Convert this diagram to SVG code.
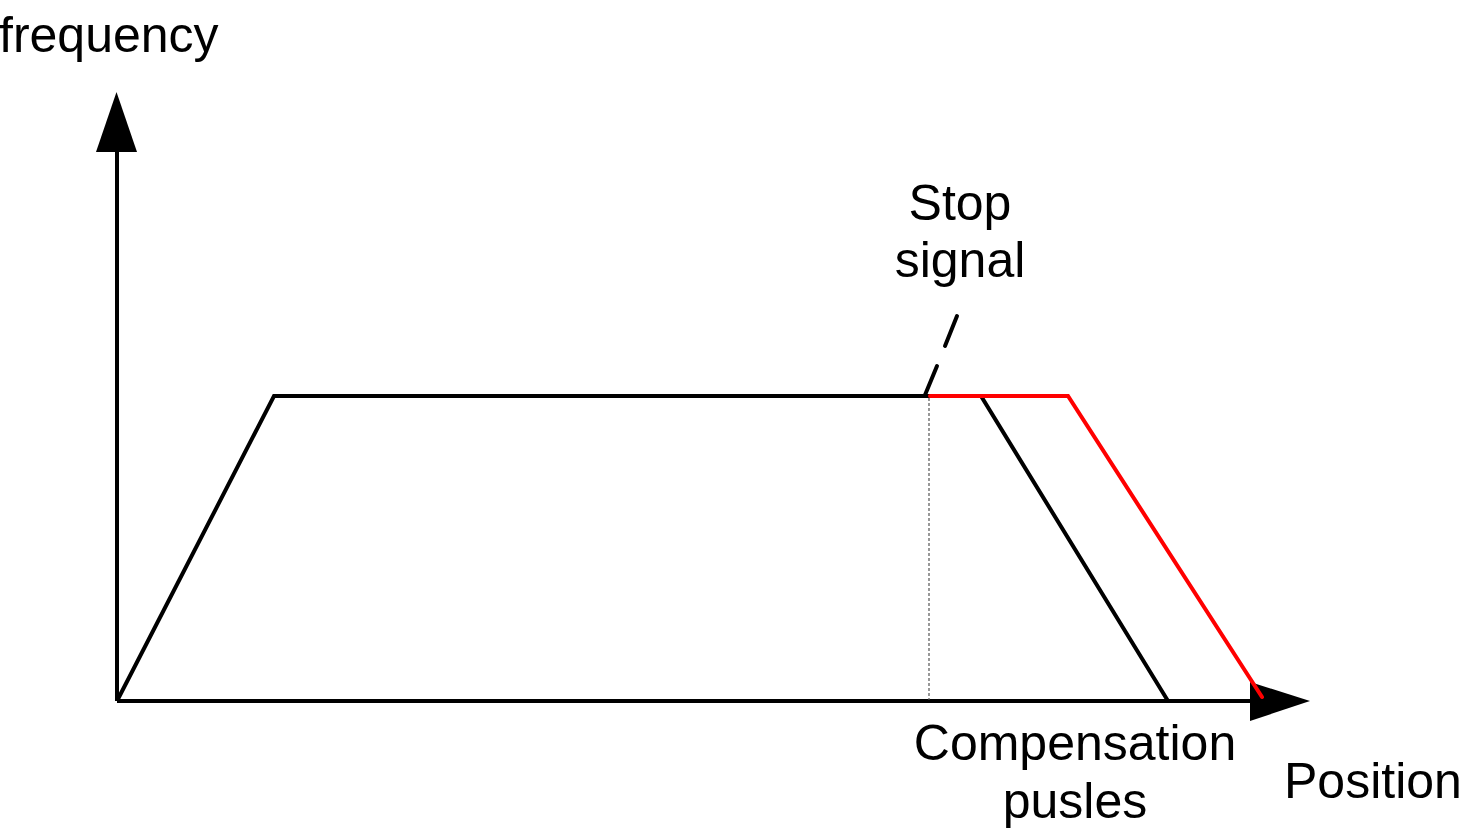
<svg xmlns="http://www.w3.org/2000/svg" width="1463" height="834" viewBox="0 0 1463 834">
<style>
text{font-family:"Liberation Sans",Arial,sans-serif;font-size:50px;fill:#000}
.ax{stroke:#000;stroke-width:4;fill:none}
.blk{stroke:#000;stroke-width:4;fill:none;stroke-linejoin:miter}
.red{stroke:#ff0000;stroke-width:4;fill:none;stroke-linecap:round}
</style>
<rect width="1463" height="834" fill="#fff"/>
<g id="axes">
<line class="ax" x1="117" y1="701" x2="1252" y2="701"/>
<line class="ax" x1="117" y1="701" x2="117" y2="150"/>
<polygon points="116.5,92 96,152 137,152" fill="#000"/>
<polygon points="1310,701 1250,682 1250,721" fill="#000"/>
</g>
<g id="connectors">
<polyline class="blk" points="117,701 274,396 981,396 1168,701"/>
<line x1="929" y1="398" x2="929" y2="700" stroke="#555" stroke-width="1.2" stroke-dasharray="3,2"/>
<polyline class="red" points="930,396 1068,396 1262,697"/>
<line x1="925" y1="395" x2="937" y2="366" stroke="#000" stroke-width="4" stroke-linecap="round"/>
<line x1="945" y1="346" x2="957" y2="316" stroke="#000" stroke-width="4" stroke-linecap="round"/>
</g>
<g id="labels">
<text x="-1" y="52">frequency</text>
<text x="960" y="220" text-anchor="middle">Stop</text>
<text x="960" y="277" text-anchor="middle">signal</text>
<text x="1075" y="760" text-anchor="middle">Compensation</text>
<text x="1075" y="818" text-anchor="middle">pusles</text>
<text x="1284" y="798">Position</text>
</g>
</svg>
